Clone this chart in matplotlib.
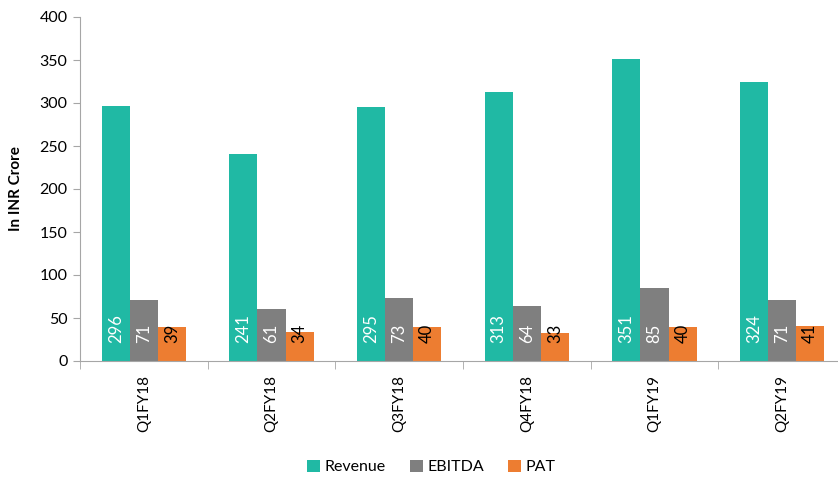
import matplotlib.pyplot as plt
import numpy as np

plt.rcParams['font.family'] = ['Lato', 'DejaVu Sans']

quarters = ['Q1FY18', 'Q2FY18', 'Q3FY18', 'Q4FY18', 'Q1FY19', 'Q2FY19']
revenue = [296, 241, 295, 313, 351, 324]
ebitda = [71, 61, 73, 64, 85, 71]
pat = [39, 34, 40, 33, 40, 41]

series = [('Revenue', revenue, '#20B9A4', 'white'),
          ('EBITDA', ebitda, '#7F7F7F', 'white'),
          ('PAT', pat, '#ED7D31', 'black')]

fig = plt.figure(figsize=(8.38, 4.8), dpi=100)
ax = fig.add_axes([80 / 838, 1 - 361 / 480, 766 / 838, 344 / 480])

x = np.arange(len(quarters))
w = 0.22
for i, (name, vals, col, tcol) in enumerate(series):
    pos = x + (i - 1) * w
    ax.bar(pos, vals, width=w, color=col, label=name, edgecolor='none')
    for p, v in zip(pos, vals):
        ax.annotate(str(v), (p, 0), xytext=(0, 13), textcoords='offset points',
                    rotation=90, ha='center', va='bottom', color=tcol, fontsize=12)

ax.set_xlim(-0.5, len(quarters) - 0.5)
ax.set_ylim(0, 400)
ax.set_yticks(range(0, 401, 50))
ax.set_xticks(x)
ax.set_xticklabels(quarters, rotation=90)
ax.set_xticks(np.arange(-0.5, len(quarters), 1), minor=True)
ax.tick_params(axis='x', which='major', length=0, pad=10, labelsize=11)
ax.tick_params(axis='x', which='minor', length=6, color='#A6A6A6')
ax.tick_params(axis='y', length=5, color='#A6A6A6', labelsize=11.5, pad=4)

for s in ['top', 'right']:
    ax.spines[s].set_visible(False)
for s in ['left', 'bottom']:
    ax.spines[s].set_color('#A6A6A6')

ax.set_ylabel('In INR Crore', fontweight='bold', fontsize=11)
ax.yaxis.set_label_coords(-0.075, 0.5)

fig.legend(loc='center', bbox_to_anchor=(0.515, 1 - 467 / 480), ncol=3, frameon=False,
           fontsize=11.5, handlelength=0.8, handleheight=0.8, handletextpad=0.3,
           columnspacing=1.5)

fig.savefig('out.png', dpi=100)
